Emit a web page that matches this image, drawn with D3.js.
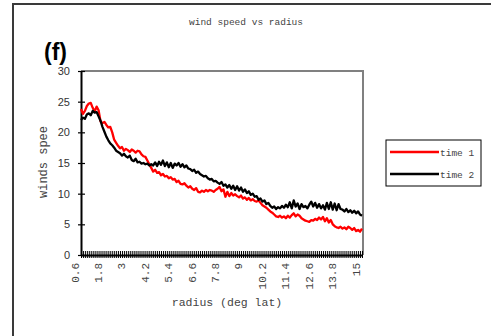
<!DOCTYPE html>
<html>
<head>
<meta charset="utf-8">
<script src="https://cdnjs.cloudflare.com/ajax/libs/d3/7.8.5/d3.min.js"></script>
<style>
  html, body { margin: 0; padding: 0; background: #fff; }
  svg { display: block; }
  .mono { font-family: "Courier New", "Liberation Mono", monospace; }
  .sans { font-family: Arial, "Liberation Sans", sans-serif; }
</style>
</head>
<body>
<div id="chart"></div>
<script>
// radius (deg lat), one category per 0.1
var radius = [
  0.6,0.7,0.8,0.9,1.0,1.1,1.2,1.3,1.4,1.5,1.6,1.7,1.8,1.9,2.0,2.1,2.2,2.3,2.4,2.5,
  2.6,2.7,2.8,2.9,3.0,3.1,3.2,3.3,3.4,3.5,3.6,3.7,3.8,3.9,4.0,4.1,4.2,4.3,4.4,4.5,
  4.6,4.7,4.8,4.9,5.0,5.1,5.2,5.3,5.4,5.5,5.6,5.7,5.8,5.9,6.0,6.1,6.2,6.3,6.4,6.5,
  6.6,6.7,6.8,6.9,7.0,7.1,7.2,7.3,7.4,7.5,7.6,7.7,7.8,7.9,8.0,8.1,8.2,8.3,8.4,8.5,
  8.6,8.7,8.8,8.9,9.0,9.1,9.2,9.3,9.4,9.5,9.6,9.7,9.8,9.9,10.0,10.1,10.2,10.3,10.4,10.5,
  10.6,10.7,10.8,10.9,11.0,11.1,11.2,11.3,11.4,11.5,11.6,11.7,11.8,11.9,12.0,12.1,12.2,12.3,12.4,12.5,
  12.6,12.7,12.8,12.9,13.0,13.1,13.2,13.3,13.4,13.5,13.6,13.7,13.8,13.9,14.0,14.1,14.2,14.3,14.4,14.5,
  14.6,14.7,14.8,14.9,15.0
];

var time1 = [
  23.8,23.0,23.5,24.3,24.7,24.8,24.0,23.4,24.2,23.6,21.8,21.5,21.7,21.2,20.8,20.9,20.0,18.8,18.3,17.8,
  17.4,17.6,17.0,17.3,17.1,16.8,17.2,17.0,16.7,17.0,16.9,16.4,16.1,16.0,15.4,14.8,14.2,13.6,13.9,13.4,
  13.5,13.0,13.2,12.8,12.9,12.5,12.7,12.3,12.4,11.9,12.1,11.6,11.5,11.7,11.3,11.0,11.2,10.8,10.6,10.9,
  10.3,10.2,10.5,10.3,10.6,10.4,10.6,10.5,10.3,10.6,10.8,11.1,10.4,10.7,9.5,10.3,9.6,10.1,9.7,9.9,
  9.6,9.4,9.7,9.2,9.4,9.0,9.3,8.9,9.1,8.8,8.7,8.9,8.5,8.1,7.9,7.7,7.4,7.1,6.9,6.6,
  6.3,6.2,6.4,6.1,6.3,6.0,6.4,6.1,6.5,6.8,6.3,6.6,6.4,6.0,5.8,5.6,5.5,5.4,5.7,5.6,
  5.9,5.7,6.1,5.8,6.2,5.5,6.0,5.3,5.7,5.0,4.7,4.5,4.4,4.6,4.3,4.5,4.2,4.6,4.4,4.1,
  4.4,3.9,4.1,3.8,4.3
];

var time2 = [
  22.0,22.4,22.2,22.9,23.1,22.8,23.5,23.2,23.3,22.6,21.9,20.9,20.1,19.3,18.7,18.2,17.9,17.5,17.0,16.8,
  16.6,16.2,16.5,16.1,15.9,16.2,15.5,15.3,15.7,15.1,15.2,14.9,15.0,14.8,14.9,14.6,14.8,14.6,15.1,14.5,
  15.2,14.7,15.4,14.5,15.1,14.3,15.0,14.2,14.9,14.6,15.0,14.4,14.8,14.3,14.6,14.1,14.0,13.7,13.9,13.4,
  13.6,13.2,13.0,12.8,12.9,12.5,12.3,12.4,12.0,12.1,11.8,11.6,11.9,11.3,11.5,11.0,11.4,10.8,11.3,10.6,
  11.2,10.5,11.0,10.3,10.7,10.1,10.4,9.8,10.0,9.5,9.6,9.0,9.2,8.7,8.9,8.3,8.5,8.0,7.7,7.9,
  7.5,7.8,7.6,8.0,7.7,8.2,7.8,8.6,7.6,8.9,7.9,8.4,7.5,8.3,7.8,8.0,7.6,8.2,8.7,7.9,
  8.5,7.7,8.3,7.6,8.1,7.4,8.5,7.5,8.6,7.4,8.4,7.3,8.3,7.5,7.4,7.1,7.5,7.0,7.3,6.9,
  7.2,6.8,7.1,6.6,6.4
];

var yTicks = [0, 5, 10, 15, 20, 25, 30];
var labelEvery = 12;

var seriesList = [
  {name: 'time 1', values: time1, color: '#ff0000'},
  {name: 'time 2', values: time2, color: '#000000'}
];

var W = 491, H = 336;
var textColor = '#444';
var svg = d3.select('#chart').append('svg').attr('width', W).attr('height', H);

// outer chart frame (only left and top edges fall in the picture)
svg.append('rect').attr('x', 13).attr('y', 4).attr('width', 600).attr('height', 600)
  .attr('fill', 'none').attr('stroke', '#3a3a3a').attr('stroke-width', 2);

var x = d3.scalePoint().domain(radius).range([81, 362]);
var y = d3.scaleLinear().domain([0, 30]).range([255, 71]);

// plot area border (gray top and right)
svg.append('path')
  .attr('d', 'M81,' + y(30) + 'H363V' + y(0))
  .attr('fill', 'none').attr('stroke', '#808080').attr('stroke-width', 2);

// title
svg.append('text').attr('class', 'mono').attr('x', 246).attr('y', 25)
  .attr('text-anchor', 'middle').attr('font-size', 9.5).attr('fill', textColor)
  .text('wind speed vs radius');

svg.append('text').attr('class', 'sans').attr('x', 44).attr('y', 60)
  .attr('font-size', 23).attr('font-weight', 'bold').attr('fill', '#000')
  .text('(f)');

// y axis
var yAxis = svg.append('g').attr('transform', 'translate(81,0)')
  .call(d3.axisLeft(y).tickValues(yTicks).tickSizeInner(3).tickSizeOuter(0).tickPadding(8));
yAxis.select('.domain').attr('stroke', '#000').attr('stroke-width', 2);
yAxis.selectAll('.tick line').attr('x1', 4).attr('stroke', '#000').attr('stroke-width', 1.2);
yAxis.selectAll('.tick text').attr('class', 'sans').attr('font-size', 11).attr('fill', '#333');

// x axis, one tick per category
var xAxis = svg.append('g').attr('transform', 'translate(0,' + y(0) + ')')
  .call(d3.axisBottom(x).tickSizeInner(3).tickSizeOuter(0)
    .tickFormat(function(d, i) { return i % labelEvery === 0 ? String(d) : ''; }));
xAxis.select('.domain').attr('stroke', '#000').attr('stroke-width', 2);
xAxis.selectAll('.tick line').attr('y1', -4).attr('stroke', '#000').attr('stroke-width', 1);
xAxis.selectAll('.tick text')
  .attr('class', 'mono').attr('font-size', 11).attr('fill', textColor)
  .attr('transform', 'rotate(-90)')
  .attr('text-anchor', 'end')
  .attr('x', -8).attr('y', -3).attr('dy', 0);

// axis titles
svg.append('text').attr('class', 'mono').attr('transform', 'translate(47,162) rotate(-90)')
  .attr('text-anchor', 'middle').attr('font-size', 12).attr('fill', textColor)
  .text('winds spee');

svg.append('text').attr('class', 'mono').attr('x', 227).attr('y', 306)
  .attr('text-anchor', 'middle').attr('font-size', 11.5).attr('fill', textColor)
  .text('radius (deg lat)');

// series
var line = d3.line()
  .x(function(d, i) { return x(radius[i]); })
  .y(function(d) { return y(d); });

seriesList.forEach(function(s) {
  svg.append('path').datum(s.values)
    .attr('d', line)
    .attr('fill', 'none')
    .attr('stroke', s.color)
    .attr('stroke-width', 2.3)
    .attr('stroke-linejoin', 'round');
});

// legend
var legend = svg.append('g').attr('transform', 'translate(386,140)');
legend.append('rect').attr('x', 0).attr('y', 0).attr('width', 95).attr('height', 46)
  .attr('fill', '#fff').attr('stroke', '#000').attr('stroke-width', 1);
seriesList.forEach(function(s, i) {
  var row = legend.append('g').attr('transform', 'translate(0,' + (12 + i * 22) + ')');
  row.append('line').attr('x1', 4).attr('x2', 53).attr('y1', 0).attr('y2', 0)
    .attr('stroke', s.color).attr('stroke-width', 2.5);
  row.append('text').attr('class', 'mono').attr('x', 54).attr('y', 4)
    .attr('font-size', 9.5).attr('fill', textColor).text(s.name);
});
</script>
</body>
</html>
